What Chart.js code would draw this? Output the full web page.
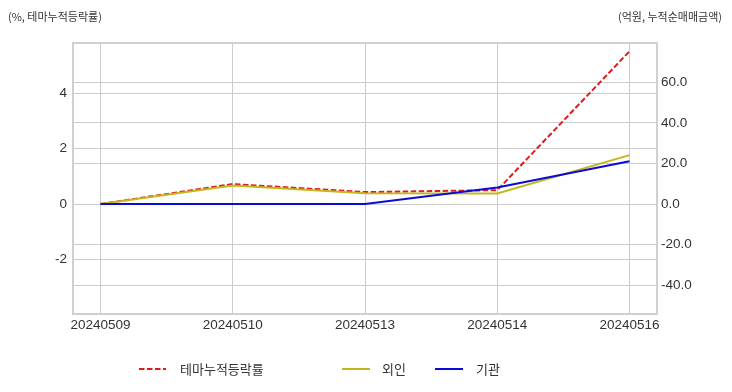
<!DOCTYPE html>
<html>
<head>
<meta charset="utf-8">
<script src="https://cdn.jsdelivr.net/npm/chart.js@4.4.1/dist/chart.umd.min.js"></script>
<style>
  html, body { margin: 0; padding: 0; background: #fff; }
  #wrap { position: relative; width: 732px; height: 392px; }
  .unit { position: absolute; top: 8px; font-family: 'Noto Sans CJK KR', sans-serif; font-size: 11px; color: #333; }
</style>
</head>
<body>
<div id="wrap">
  <canvas id="myChart" width="732" height="392"></canvas>
  <div class="unit" style="left:8px;">(%, 테마누적등락률)</div>
  <div class="unit" style="right:10px;">(억원, 누적순매매금액)</div>
</div>
<script>
var dates = ['20240509', '20240510', '20240513', '20240514', '20240516'];
var themeRate = [0, 0.72, 0.43, 0.5, 5.51];      // %, left axis
var foreign = [0, 9.2, 5.4, 5.2, 24.1];          // 억원, right axis
var institution = [0, 0, 0, 8.2, 21.1];          // 억원, right axis
var seriesNames = ['테마누적등락률', '외인', '기관'];
var rightTicks = [-40, -20, 0, 20, 40, 60];

var FONT = "'Liberation Sans', 'Noto Sans CJK KR', sans-serif";

function toPoints(arr) {
    var pts = [];
    for (var i = 0; i < arr.length; i++) {
        pts.push({ x: i, y: arr[i] });
    }
    return pts;
}

// frame around the plot area
var framePlugin = {
    id: 'frame',
    afterDraw: function (chart) {
        var a = chart.chartArea;
        var ctx = chart.ctx;
        ctx.save();
        ctx.strokeStyle = '#d0d0d0';
        ctx.lineWidth = 2;
        ctx.strokeRect(a.left - 1, a.top - 1, a.right - a.left + 2, a.bottom - a.top + 2);
        ctx.restore();
    }
};

// legend drawn by hand so the spacing matches
var legendPlugin = {
    id: 'legendLine',
    afterDraw: function (chart) {
        var ctx = chart.ctx;
        var items = [
            { x1: 139, x2: 166, tx: 180 },
            { x1: 342, x2: 370, tx: 382 },
            { x1: 435, x2: 463, tx: 476 }
        ];
        var y = 369;
        ctx.save();
        for (var i = 0; i < items.length; i++) {
            var ds = chart.data.datasets[i];
            ctx.strokeStyle = ds.borderColor;
            ctx.lineWidth = ds.borderWidth;
            ctx.setLineDash(ds.borderDash || []);
            ctx.beginPath();
            ctx.moveTo(items[i].x1, y);
            ctx.lineTo(items[i].x2, y);
            ctx.stroke();
            ctx.setLineDash([]);
            ctx.fillStyle = '#333';
            ctx.font = "13px 'Noto Sans CJK KR', sans-serif";
            ctx.textBaseline = 'middle';
            ctx.fillText(ds.label, items[i].tx, y);
        }
        ctx.restore();
    }
};

var ctx = document.getElementById('myChart').getContext('2d');
var myChart = new Chart(ctx, {
    type: 'line',
    data: {
        datasets: [{
            label: seriesNames[0],
            data: toPoints(themeRate),
            yAxisID: 'y',
            borderColor: '#e31a1c',
            borderWidth: 2,
            borderDash: [5.5, 2.5],
            pointRadius: 0,
            order: 3
        }, {
            label: seriesNames[1],
            data: toPoints(foreign),
            yAxisID: 'y1',
            borderColor: '#c2b71c',
            borderWidth: 2,
            pointRadius: 0,
            order: 2
        }, {
            label: seriesNames[2],
            data: toPoints(institution),
            yAxisID: 'y1',
            borderColor: '#0b0bd6',
            borderWidth: 2,
            pointRadius: 0,
            order: 1
        }]
    },
    options: {
        responsive: false,
        animation: false,
        layout: { padding: { top: 44, left: 0, right: 0, bottom: 0 } },
        plugins: {
            legend: { display: false },
            tooltip: { enabled: false }
        },
        scales: {
            x: {
                type: 'linear',
                min: -0.2,
                max: 4.2,
                afterFit: function (s) { s.height = 79; },
                border: { display: false },
                grid: { color: '#cccccc', drawTicks: false },
                ticks: {
                    stepSize: 1,
                    includeBounds: false,
                    autoSkip: false,
                    maxRotation: 0,
                    padding: 4,
                    color: '#333',
                    font: { family: FONT, size: 13.5 },
                    callback: function (v) { return dates[v] !== undefined ? dates[v] : ''; }
                }
            },
            y: {
                position: 'left',
                min: -3.93,
                max: 5.77,
                afterFit: function (s) { s.width = 74; },
                border: { display: false },
                grid: { color: '#cccccc', drawTicks: false },
                ticks: {
                    stepSize: 2,
                    includeBounds: false,
                    padding: 7,
                    color: '#333',
                    font: { family: FONT, size: 13.5 }
                }
            },
            y1: {
                position: 'right',
                min: -53.6,
                max: 78.8,
                afterFit: function (s) { s.width = 76; },
                afterBuildTicks: function (s) {
                    s.ticks = rightTicks.map(function (v) { return { value: v }; });
                },
                border: { display: false },
                grid: { color: '#cccccc', drawTicks: false },
                ticks: {
                    padding: 5,
                    color: '#333',
                    font: { family: FONT, size: 13.5 },
                    callback: function (v) { return v.toFixed(1); }
                }
            }
        }
    },
    plugins: [framePlugin, legendPlugin]
});
</script>
</body>
</html>
